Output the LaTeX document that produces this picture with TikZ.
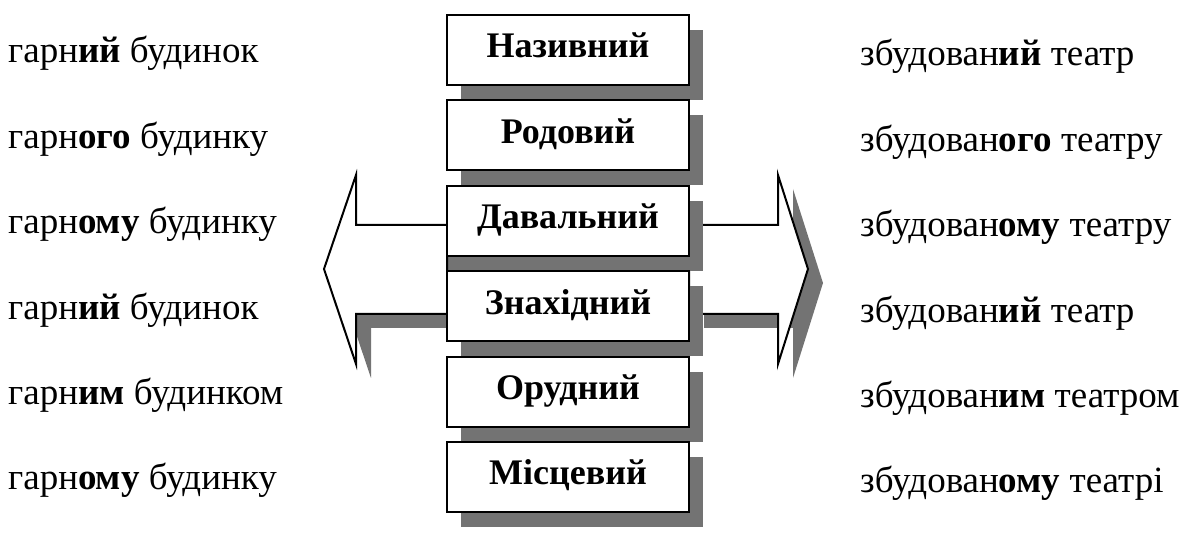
\documentclass[tikz,border=0pt]{standalone}
\usepackage{fontspec}
\setmainfont{Liberation Serif}
\usetikzlibrary{shadows, backgrounds}

\definecolor{castgray}{gray}{0.45}

\begin{document}
\begin{tikzpicture}[
    x=1pt, y=-1pt, % work in pixels, y downwards
    case/.style={draw, line width=2pt, fill=white, minimum width=242pt, minimum height=70pt,
        font=\fontsize{36}{40}\selectfont\bfseries, text height=24pt, text depth=8pt,
        drop shadow={shadow xshift=14pt, shadow yshift=-15pt, fill=castgray, opacity=1}}, % Style for case boxes
    form/.style={anchor=base west, inner sep=0pt, font=\fontsize{37}{42}\selectfont}, % Style for word forms
    bigarrow/.style={draw, line width=2pt, fill=white, line join=miter},
    cast/.style={fill=castgray, xshift=15pt, yshift=-14pt} % Shadow of the big arrows
]

\useasboundingbox (0,0) rectangle (1203,534);

% Define pitch of the rows
\def\pitch{85.4}

% Case boxes
\foreach \case [count=\i] in {Називний, Родовий, Давальний, Знахідний, Орудний, Місцевий}
    \node[case] (case\i) at (568, {50+\pitch*(\i-1)}) {\case};

% Word forms, left and right
\foreach \form [count=\i] in {гарн\textbf{ий} будинок, гарн\textbf{ого} будинку, гарн\textbf{ому} будинку,
        гарн\textbf{ий} будинок, гарн\textbf{им} будинком, гарн\textbf{ому} будинку}
    \node[form] (left\i) at (8, {63+\pitch*(\i-1)}) {\form};
\foreach \form [count=\i] in {збудован\textbf{ий} театр, збудован\textbf{ого} театру, збудован\textbf{ому} театру,
        збудован\textbf{ий} театр, збудован\textbf{им} театром, збудован\textbf{ому} театрі}
    \node[form] (right\i) at (860, {66+\pitch*(\i-1)}) {\form};

% Big arrows behind the boxes
\begin{scope}[on background layer]
    % Left arrow, shadow only below the shaft
    \begin{scope}
        \clip (300,240) rectangle (470,400);
        \fill[cast] (447,225) -- (356,225) -- (356,175) -- (324,269)
            -- (356,364) -- (356,314) -- (447,314) -- cycle;
    \end{scope}
    \draw[bigarrow] (447,225) -- (356,225) -- (356,175) -- (324,269)
        -- (356,364) -- (356,314) -- (447,314) -- cycle;

    % Right arrow
    \fill[cast] (689,225) -- (778,225) -- (778,175) -- (808,269)
        -- (778,364) -- (778,314) -- (689,314) -- cycle;
    \draw[bigarrow] (689,225) -- (778,225) -- (778,175) -- (808,269)
        -- (778,364) -- (778,314) -- (689,314) -- cycle;
\end{scope}

\end{tikzpicture}
\end{document}
